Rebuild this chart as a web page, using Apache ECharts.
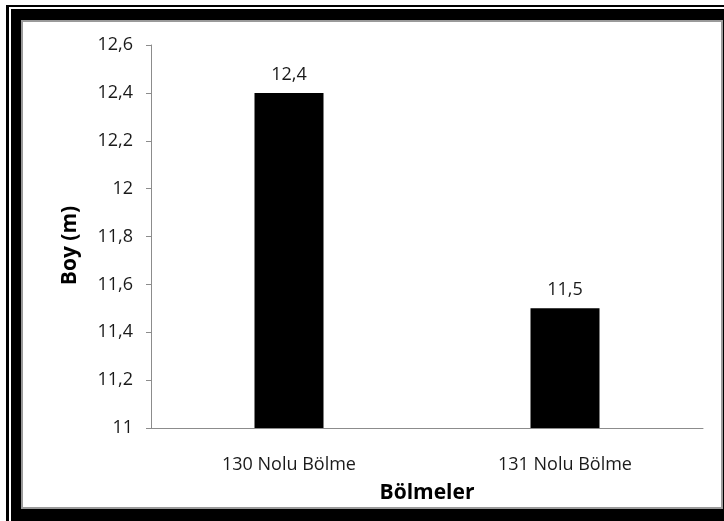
<!DOCTYPE html>
<html>
<head>
<meta charset="utf-8">
<style>
  html, body { margin: 0; padding: 0; background: #fff; }
  #chart { width: 724px; height: 521px; }
</style>
<script src="https://cdn.jsdelivr.net/npm/echarts@6/dist/echarts.min.js"></script>
</head>
<body>
<div id="chart"></div>
<script>
// Bölmelere göre ortalama boy (m)
const categories = ['130 Nolu Bölme', '131 Nolu Bölme'];
const heights = [12.4, 11.5];
const yMin = 11;
const yMax = 12.6;
const yStep = 0.2;

const fmt = v => String(Math.round(v * 10) / 10).replace('.', ',');
const font = '"Open Sans", "DejaVu Sans", sans-serif';

const chart = echarts.init(document.getElementById('chart'), null, { renderer: 'canvas' });

chart.setOption({
  animation: false,
  backgroundColor: '#fff',
  graphic: [
    // double black frame with a grey inner edge
    { type: 'rect', z: -10, shape: { x: 6, y: 5, width: 740, height: 540 }, style: { fill: '#000' } },
    { type: 'rect', z: -9, shape: { x: 9, y: 7, width: 740, height: 540 }, style: { fill: '#fff' } },
    { type: 'rect', z: -8, shape: { x: 11, y: 9, width: 740, height: 540 }, style: { fill: '#000' } },
    { type: 'rect', z: -7, shape: { x: 21, y: 20, width: 702, height: 489 }, style: { fill: '#9a9a9a' } },
    { type: 'rect', z: -6, shape: { x: 23, y: 22, width: 698, height: 485 }, style: { fill: '#fff' } }
  ],
  grid: { left: 151, right: 21, top: 45, bottom: 93, containLabel: false },
  xAxis: {
    type: 'category',
    data: categories,
    name: 'Bölmeler',
    nameLocation: 'middle',
    nameGap: 55,
    nameTextStyle: { fontFamily: font, fontWeight: 'bold', fontSize: 21, color: '#000' },
    axisLine: { lineStyle: { color: '#8c8c8c', width: 1 } },
    axisTick: { show: false },
    axisLabel: { fontFamily: font, fontSize: 18, color: '#1a1a1a', margin: 28 }
  },
  yAxis: {
    type: 'value',
    min: yMin,
    max: yMax,
    interval: yStep,
    name: 'Boy (m)',
    nameLocation: 'middle',
    nameRotate: 90,
    nameGap: 70,
    nameTextStyle: { fontFamily: font, fontWeight: 'bold', fontSize: 21, color: '#000', padding: [0, 18, 0, 0] },
    axisLine: { show: true, lineStyle: { color: '#8c8c8c', width: 1 } },
    axisTick: { show: true, length: 5, inside: false, lineStyle: { color: '#8c8c8c' } },
    splitLine: { show: false },
    axisLabel: { fontFamily: font, fontSize: 18, color: '#1a1a1a', margin: 18, formatter: fmt }
  },
  series: [{
    type: 'bar',
    data: heights,
    barWidth: 69,
    itemStyle: { color: '#000' },
    label: {
      show: true,
      position: 'top',
      distance: 9,
      fontFamily: font,
      fontSize: 18,
      color: '#1a1a1a',
      formatter: p => fmt(p.value)
    }
  }]
});
</script>
</body>
</html>
